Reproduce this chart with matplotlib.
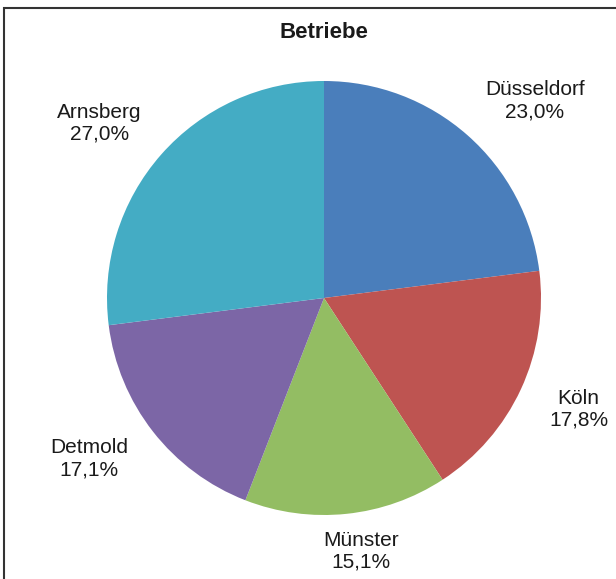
import numpy as np
import matplotlib.pyplot as plt
from matplotlib.patches import Rectangle

plt.rcParams['font.family'] = ['Liberation Sans', 'DejaVu Sans']

## data
regions = ['Düsseldorf', 'Köln', 'Münster', 'Detmold', 'Arnsberg']
shares = [23.0, 17.8, 15.1, 17.1, 27.0]
colors = ['#4a7ebb', '#be5451', '#93bd63', '#7c66a6', '#44acc4']

## label placement (radius in pie radii, angle tweak in degrees)
lab_r = [1.33, 1.28, 1.18, 1.31, 1.31]
lab_da = [-5.5, 1.2, 2.4, -3.6, 3.5]

W, H = 616, 579
fig = plt.figure(figsize=(W / 100, H / 100), dpi=100)
cx, cy, r = 324, 298, 217
ax = fig.add_axes([(cx - r) / W, (H - cy - r) / H, 2 * r / W, 2 * r / H])

wedges, _ = ax.pie(shares, colors=colors, startangle=90, counterclock=False,
                   radius=1, wedgeprops=dict(linewidth=0))
ax.set_xlim(-1, 1)
ax.set_ylim(-1, 1)
ax.set_aspect('auto')
ax.axis('off')

for w, name, v, lr, da in zip(wedges, regions, shares, lab_r, lab_da):
    ang = np.deg2rad((w.theta1 + w.theta2) / 2 + da)
    txt = '{}\n{}%'.format(name, ('%.1f' % v).replace('.', ','))
    ax.text(lr * np.cos(ang), lr * np.sin(ang), txt, ha='center', va='center',
            fontsize=15, color='#1a1a1a', linespacing=1.2, clip_on=False)

fig.text(cx / W, 1 - 33 / H, 'Betriebe', ha='center', va='center',
         fontsize=16, fontweight='bold', color='#1a1a1a')

## frame around the chart
fig.patches.append(Rectangle((4 / W, -0.01), 1.0, 1 - 8 / H + 0.01,
                             transform=fig.transFigure, fill=False,
                             edgecolor='#333333', linewidth=1.5))

fig.savefig('out.png', dpi=100)
